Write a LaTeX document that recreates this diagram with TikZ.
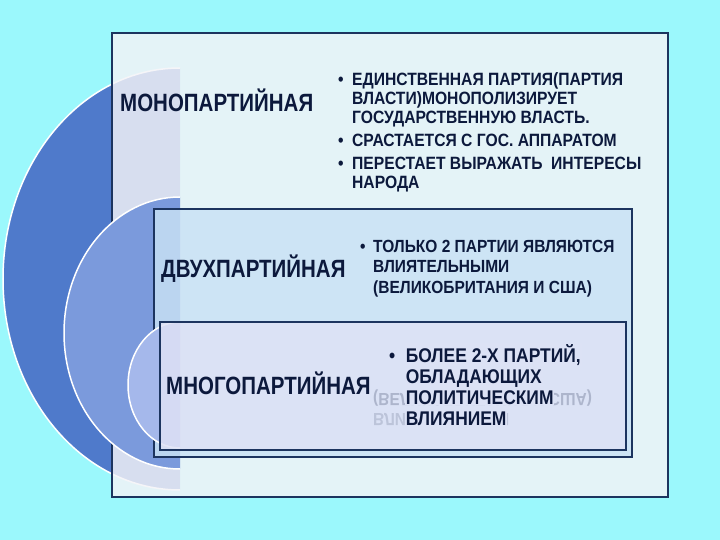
\documentclass[tikz,border=0pt]{standalone}
\usepackage{fontspec}
\setmainfont{Liberation Sans}[FakeStretch=0.88]
\newfontfamily\headfont{Liberation Sans}[FakeStretch=0.82]
\usetikzlibrary{positioning}

\definecolor{sea}{RGB}{155,248,252}
\definecolor{panel}{RGB}{243,243,247}
\definecolor{twobox}{RGB}{201,225,245}
\definecolor{multibox}{RGB}{223,226,245}
\definecolor{multipatch}{RGB}{220,226,245}
\definecolor{discA}{RGB}{79,122,203}
\definecolor{discB}{RGB}{123,154,220}
\definecolor{discC}{RGB}{165,184,235}
\definecolor{frame}{RGB}{28,52,95}
\definecolor{ink}{RGB}{12,25,60}

\newcommand{\patch}[1]{{\setlength{\fboxsep}{1pt}\colorbox{multipatch}{#1}}}

\tikzset{
  disc/.style={draw=white, line width=1.5pt},
  card/.style={draw=frame, fill opacity=0.83},
  heading/.style={inner sep=0pt, anchor=base west, text=ink,
    font=\headfont\fontsize{25}{29}\selectfont\bfseries},
  points/.style={inner sep=0pt, anchor=base west, text=ink, align=left},
  ghost/.style={inner sep=0pt, anchor=west, text=ink, yscale=-1,
    font=\fontsize{17.6}{20.5}\selectfont\bfseries}
}

\begin{document}
\begin{tikzpicture}[x=1pt, y=-1pt]
  \useasboundingbox (0,0) rectangle (720,540);
  \fill[sea] (0,0) rectangle (720,540);

  % outer level
  \begin{scope}
    \clip (0,0) rectangle (180,540);
    \draw[disc, fill=discA] (180,279) ellipse [x radius=177pt, y radius=211pt];
  \end{scope}
  \draw[card, fill=panel, line width=1.2pt] (112,33) rectangle (668,497);

  % middle level
  \begin{scope}
    \clip (0,0) rectangle (180,540);
    \draw[disc, fill=discB] (180,333) ellipse [x radius=116pt, y radius=136pt];
  \end{scope}
  \draw[card, fill=twobox, line width=2pt] (154,209) rectangle (632,457);

  % inner level
  \begin{scope}
    \clip (0,0) rectangle (180,540);
    \draw[disc, fill=discC] (180,385) ellipse [x radius=52pt, y radius=63pt];
  \end{scope}
  \draw[card, fill=multibox, line width=2pt] (160,322) rectangle (626,450);

  \node[heading] (mono) at (120,112) {МОНОПАРТИЙНАЯ};
  \node[heading] (dual) at (161,277) {ДВУХПАРТИЙНАЯ};
  \node[heading] (multi) at (166,394) {МНОГОПАРТИЙНАЯ};

  \node[points, font=\fontsize{17.8}{19}\selectfont\bfseries] (monotext) at (338,86)
    {\begin{tabular}[t]{@{}l@{\hspace{8.5pt}}l@{}}
      • & ЕДИНСТВЕННАЯ ПАРТИЯ(ПАРТИЯ\\
        & ВЛАСТИ)МОНОПОЛИЗИРУЕТ\\
        & ГОСУДАРСТВЕННУЮ ВЛАСТЬ.\\[4pt]
      • & СРАСТАЕТСЯ С ГОС. АППАРАТОМ\\[4pt]
      • & ПЕРЕСТАЕТ ВЫРАЖАТЬ\ \ ИНТЕРЕСЫ\\
        & НАРОДА
    \end{tabular}};

  \node[points, font=\fontsize{17.6}{20.5}\selectfont\bfseries] (dualtext) at (360,252)
    {\begin{tabular}[t]{@{}l@{\hspace{7.6pt}}l@{}}
      • & ТОЛЬКО 2 ПАРТИИ ЯВЛЯЮТСЯ\\
        & ВЛИЯТЕЛЬНЫМИ\\
        & (ВЕЛИКОБРИТАНИЯ И США)
    \end{tabular}};

  % faint mirror of the lines above
  \node[ghost, text opacity=0.22] (echoA) at (373,398) {(ВЕЛИКОБРИТАНИЯ И США)};
  \node[ghost, text opacity=0.15] (echoB) at (373,419) {ВЛИЯТЕЛЬНЫМИ};

  \node[points, font=\fontsize{19.8}{21}\selectfont\bfseries] (multitext) at (389,362)
    {\begin{tabular}[t]{@{}l@{\hspace{9.5pt}}l@{}}
      • & \patch{БОЛЕЕ 2-Х ПАРТИЙ,}\\
        & \patch{ОБЛАДАЮЩИХ}\\
        & \patch{ПОЛИТИЧЕСКИМ}\\
        & \patch{ВЛИЯНИЕМ}
    \end{tabular}};
\end{tikzpicture}
\end{document}
